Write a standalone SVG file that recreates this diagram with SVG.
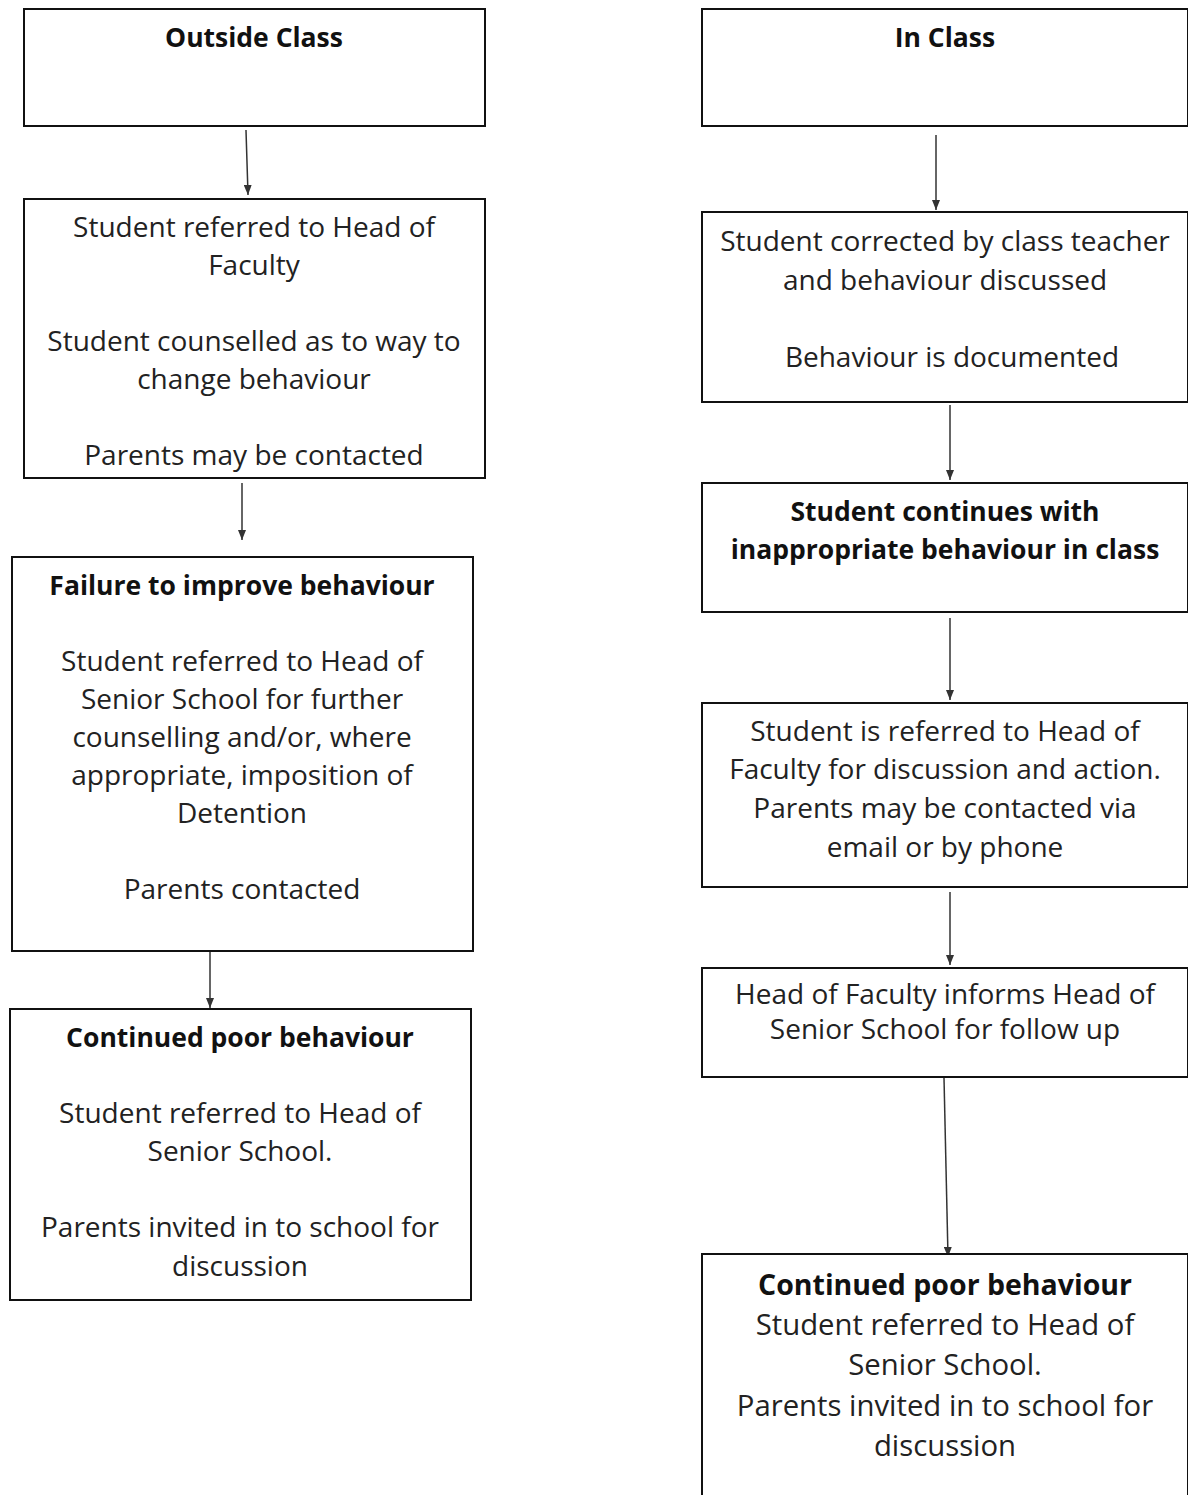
<svg xmlns="http://www.w3.org/2000/svg" width="1188" height="1495" viewBox="0 0 1188 1495">
<defs>
<marker id="ah" markerWidth="10" markerHeight="8" refX="10" refY="4" orient="auto" markerUnits="userSpaceOnUse" viewBox="0 0 10 8">
<path d="M0,0 L10,4 L0,8 Z" fill="#333"/>
</marker>
<style>
.box{fill:#fff;stroke:#111;stroke-width:2}
.t{font-family:"Open Sans","Liberation Sans",sans-serif;font-size:28px;fill:#222;text-anchor:middle}
.b{font-weight:bold;fill:#111;font-size:26.5px}
.big{font-size:29.3px}
.bb{font-weight:bold;fill:#111;font-size:28.5px}
.c{stroke:#333;stroke-width:1.5;fill:none;marker-end:url(#ah)}
</style>
</defs>
<rect width="1188" height="1495" fill="#fff"/>
<g id="connectors">
<line class="c" x1="246" y1="130" x2="248" y2="195"/>
<line class="c" x1="242" y1="483" x2="242" y2="540"/>
<line class="c" x1="210" y1="952" x2="210" y2="1008"/>
<line class="c" x1="936" y1="135" x2="936" y2="210"/>
<line class="c" x1="950" y1="405" x2="950" y2="480"/>
<line class="c" x1="950" y1="618" x2="950" y2="700"/>
<line class="c" x1="950" y1="892" x2="950" y2="965"/>
<line class="c" x1="944" y1="1078" x2="948" y2="1257"/>
</g>
<g id="outside-class">
<rect class="box" x="24" y="9" width="461" height="117"/>
<text class="t b" x="254" y="47">Outside Class</text>
</g>
<g id="referred-hof">
<rect class="box" x="24" y="199" width="461" height="279"/>
<text class="t" x="254" y="237">Student referred to Head of</text>
<text class="t" x="254" y="275">Faculty</text>
<text class="t" x="254" y="351">Student counselled as to way to</text>
<text class="t" x="254" y="389">change behaviour</text>
<text class="t" x="254" y="465">Parents may be contacted</text>
</g>
<g id="failure">
<rect class="box" x="12" y="557" width="461" height="394"/>
<text class="t b" x="242" y="595">Failure to improve behaviour</text>
<text class="t" x="242" y="671">Student referred to Head of</text>
<text class="t" x="242" y="709">Senior School for further</text>
<text class="t" x="242" y="747">counselling and/or, where</text>
<text class="t" x="242" y="785">appropriate, imposition of</text>
<text class="t" x="242" y="823">Detention</text>
<text class="t" x="242" y="899">Parents contacted</text>
</g>
<g id="continued-left">
<rect class="box" x="10" y="1009" width="461" height="291"/>
<text class="t b" x="240" y="1047">Continued poor behaviour</text>
<text class="t" x="240" y="1123">Student referred to Head of</text>
<text class="t" x="240" y="1161">Senior School.</text>
<text class="t" x="240" y="1237">Parents invited in to school for</text>
<text class="t" x="240" y="1276">discussion</text>
</g>
<g id="in-class">
<rect class="box" x="702" y="9" width="486" height="117"/>
<text class="t b" x="945" y="47">In Class</text>
</g>
<g id="corrected">
<rect class="box" x="702" y="212" width="486" height="190"/>
<text class="t" x="945" y="251">Student corrected by class teacher</text>
<text class="t" x="945" y="290">and behaviour discussed</text>
<text class="t" x="952" y="367">Behaviour is documented</text>
</g>
<g id="continues">
<rect class="box" x="702" y="483" width="486" height="129"/>
<text class="t b" x="945" y="521">Student continues with</text>
<text class="t b" x="945" y="559">inappropriate behaviour in class</text>
</g>
<g id="referred-hof-right">
<rect class="box" x="702" y="703" width="486" height="184"/>
<text class="t" x="945" y="741">Student is referred to Head of</text>
<text class="t" x="945" y="779">Faculty for discussion and action.</text>
<text class="t" x="945" y="818">Parents may be contacted via</text>
<text class="t" x="945" y="857">email or by phone</text>
</g>
<g id="hof-informs">
<rect class="box" x="702" y="968" width="486" height="109"/>
<text class="t" x="945" y="1004">Head of Faculty informs Head of</text>
<text class="t" x="945" y="1039">Senior School for follow up</text>
</g>
<g id="continued-right">
<rect class="box" x="702" y="1254" width="486" height="260"/>
<text class="t bb" x="945" y="1295">Continued poor behaviour</text>
<text class="t big" x="945" y="1335">Student referred to Head of</text>
<text class="t big" x="945" y="1375">Senior School.</text>
<text class="t big" x="945" y="1416">Parents invited in to school for</text>
<text class="t big" x="945" y="1456">discussion</text>
</g>
</svg>
